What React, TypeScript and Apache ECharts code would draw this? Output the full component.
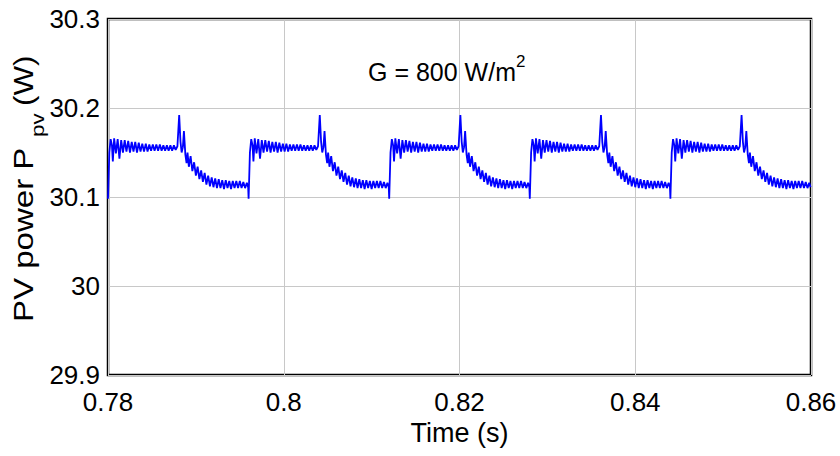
import React, { useEffect, useRef } from "react";
import * as echarts from "echarts";

// Time axis ticks (s) and power axis ticks (W)
const xTicks = [0.78, 0.8, 0.82, 0.84, 0.86];
const yTicks = [29.9, 30, 30.1, 30.2, 30.3];

// Start time of each repeated MPPT cycle (s)
const cycleStarts = [0.78, 0.796, 0.812, 0.828, 0.844];

// One cycle of the PV power waveform: time within cycle (ms) and power (W)
const cycleTimesMs = [
  0.0, 0.15, 0.3, 0.45, 0.55, 0.7, 0.9, 1.1, 1.3, 1.5, 1.7, 1.9, 2.1, 2.3, 2.5, 2.7, 2.9, 3.1, 3.3, 3.5,
  3.7, 3.9, 4.1, 4.3, 4.5, 4.7, 4.9, 5.1, 5.3, 5.5, 5.7, 5.9, 6.1, 6.3, 6.5, 6.7, 6.9, 7.1, 7.3, 7.5,
  7.7, 7.9, 8.1, 8.25, 8.38, 8.52, 8.64, 8.8, 8.94, 9.05, 9.2, 9.4, 9.6, 9.8, 10.0, 10.2, 10.4, 10.6,
  10.8, 11.0, 11.2, 11.4, 11.6, 11.8, 12.0, 12.2, 12.4, 12.6, 12.8, 13.0, 13.2, 13.4, 13.6, 13.8, 14.0,
  14.2, 14.4, 14.6, 14.8, 15.0, 15.2, 15.4, 15.6, 15.8, 15.95,
];
const cycleValues = [
  30.098, 30.15, 30.165, 30.158, 30.14, 30.166, 30.149, 30.165, 30.143, 30.164, 30.15, 30.164, 30.151,
  30.163, 30.15, 30.162, 30.151, 30.162, 30.15, 30.161, 30.151, 30.16, 30.151, 30.16, 30.151, 30.159,
  30.152, 30.159, 30.152, 30.159, 30.152, 30.159, 30.152, 30.158, 30.152, 30.158, 30.152, 30.158,
  30.152, 30.158, 30.153, 30.157, 30.192, 30.162, 30.15, 30.156, 30.174, 30.148, 30.138, 30.15,
  30.134, 30.146, 30.129, 30.139, 30.124, 30.134, 30.12, 30.13, 30.117, 30.127, 30.114, 30.124,
  30.112, 30.122, 30.111, 30.121, 30.11, 30.12, 30.11, 30.119, 30.109, 30.119, 30.11, 30.118, 30.109,
  30.118, 30.11, 30.118, 30.11, 30.118, 30.11, 30.117, 30.11, 30.116, 30.111,
];

const annotation = "G = 800 W/m";
const annotationSup = "2";
const yLabelMain = "PV power P";
const yLabelSub = "pv";
const yLabelUnit = "(W)";
const xLabel = "Time (s)";

const SANS = "'Liberation Sans', Arial, sans-serif";

export default function App() {
  const ref = useRef<HTMLDivElement>(null);

  useEffect(() => {
    if (!ref.current) return;
    const chart = echarts.init(ref.current, null, { renderer: "svg" });

    const data: [number, number][] = [];
    cycleStarts.forEach((s) => {
      cycleTimesMs.forEach((tau, i) => {
        data.push([s + tau / 1000, cycleValues[i]]);
      });
    });

    const fmt = (v: number) => String(Number(v.toFixed(3)));

    chart.setOption({
      animation: false,
      backgroundColor: "#ffffff",
      grid: {
        left: 108,
        right: 29,
        top: 19,
        bottom: 81,
        show: true,
        borderColor: "#000000",
        borderWidth: 2.5,
        backgroundColor: "transparent",
      },
      xAxis: {
        type: "value",
        min: xTicks[0],
        max: xTicks[xTicks.length - 1],
        interval: 0.02,
        name: xLabel,
        nameLocation: "middle",
        nameGap: 40,
        nameTextStyle: { fontFamily: SANS, fontSize: 27, color: "#000" },
        axisLine: { show: false },
        axisTick: { show: false },
        axisLabel: {
          fontFamily: SANS,
          fontSize: 26,
          color: "#000",
          margin: 14,
          formatter: fmt,
        },
        splitLine: { show: true, lineStyle: { color: "#c8c8c8", width: 1 } },
      },
      yAxis: {
        type: "value",
        min: yTicks[0],
        max: yTicks[yTicks.length - 1],
        interval: 0.1,
        axisLine: { show: false },
        axisTick: { show: false },
        axisLabel: {
          fontFamily: SANS,
          fontSize: 26,
          color: "#000",
          margin: 8,
          formatter: fmt,
        },
        splitLine: { show: true, lineStyle: { color: "#c8c8c8", width: 1 } },
      },
      series: [
        {
          type: "line",
          data,
          showSymbol: false,
          symbol: "none",
          lineStyle: { color: "#0000ff", width: 1.8 },
          clip: true,
        },
      ],
      graphic: [
        {
          type: "text",
          left: 368,
          top: 59,
          style: { text: annotation, font: `25px ${SANS}`, fill: "#000" },
        },
        {
          type: "text",
          left: 516,
          top: 53,
          style: { text: annotationSup, font: `17px ${SANS}`, fill: "#000" },
        },
        {
          type: "text",
          x: 23,
          y: 322,
          rotation: Math.PI / 2,
          scaleX: 1.18,
          style: {
            text: yLabelMain,
            font: `28px ${SANS}`,
            fill: "#000",
            align: "left",
            verticalAlign: "middle",
          },
        },
        {
          type: "text",
          x: 37,
          y: 137,
          rotation: Math.PI / 2,
          scaleX: 1.18,
          style: {
            text: yLabelSub,
            font: `19px ${SANS}`,
            fill: "#000",
            align: "left",
            verticalAlign: "middle",
          },
        },
        {
          type: "text",
          x: 23,
          y: 106,
          rotation: Math.PI / 2,
          scaleX: 1.12,
          style: {
            text: yLabelUnit,
            font: `28px ${SANS}`,
            fill: "#000",
            align: "left",
            verticalAlign: "middle",
          },
        },
      ],
    });

    return () => chart.dispose();
  }, []);

  return (
    <div
      ref={ref}
      style={{ position: "fixed", left: 0, top: 0, width: 840, height: 456, background: "#fff" }}
    />
  );
}
